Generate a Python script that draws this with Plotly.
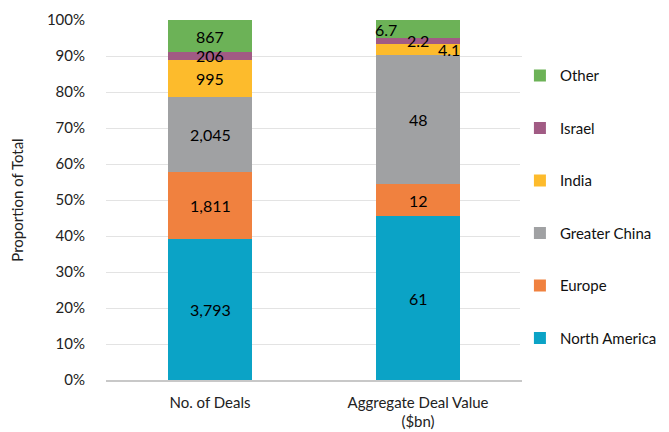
import plotly.graph_objects as go

categories = ["No. of Deals", "Aggregate Deal Value<br>($bn)"]
regions = ["North America", "Europe", "Greater China", "India", "Israel", "Other"]
deals = [3793, 1811, 2045, 995, 206, 867]
value_bn = [61, 12, 48, 4.1, 2.2, 6.7]
deal_labels = ["3,793", "1,811", "2,045", "995", "206", "867"]
value_labels = ["61", "12", "48", "4.1", "2.2", "6.7"]
colors = ["#0BA3C6", "#F0813F", "#A0A1A3", "#FDBB2C", "#A15B84", "#6CB257"]

# label horizontal nudges (Excel-style placement of crowded labels)
value_shift = [0, 0, 0, 31, 0, -32]

FONT = "Lato"
fig = go.Figure()
for i, r in enumerate(regions):
    fig.add_trace(go.Bar(
        name=r, x=categories, y=[deals[i], value_bn[i]],
        marker=dict(color=colors[i], line=dict(width=0)),
        legendgroup=r, legendrank=len(regions) - i, hoverinfo="name+y",
    ))

annotations = []
for series, labels, shifts, cat in [(deals, deal_labels, [0]*6, categories[0]),
                                    (value_bn, value_labels, value_shift, categories[1])]:
    total = sum(series)
    cum = 0
    for v, lab, sh in zip(series, labels, shifts):
        mid = (cum + v / 2) / total * 100
        cum += v
        annotations.append(dict(x=cat, y=mid, text=lab, showarrow=False, xshift=sh,
                                font=dict(family=FONT, size=16, color="#000")))

fig.update_layout(
    barmode="stack", barnorm="percent", bargap=0.6,
    width=669, height=432,
    margin=dict(l=98, r=155, t=12, b=60, autoexpand=False),
    plot_bgcolor="white", paper_bgcolor="white",
    font=dict(family=FONT, size=15, color="#222"),
    annotations=annotations,
    legend=dict(x=0.995, xanchor="left", y=0.481, yanchor="middle",
                traceorder="grouped", tracegroupgap=30,
                font=dict(family=FONT, size=15, color="#111"),
                itemwidth=30),
    yaxis=dict(range=[0, 100], dtick=10, ticksuffix="%", showgrid=True,
               gridcolor="#E3E3E3", gridwidth=1, zeroline=False, automargin=False,
               ticks="outside", ticklen=17, tickcolor="rgba(0,0,0,0)",
               title=dict(text="Proportion of Total", font=dict(size=15), standoff=19),
               tickfont=dict(size=15, color="#222")),
    xaxis=dict(showline=True, linecolor="#C8C8C8", linewidth=1.5, automargin=False,
               ticks="outside", ticklen=8, tickcolor="rgba(0,0,0,0)",
               tickfont=dict(size=15, color="#222")),
)

fig.write_html("out.html")
